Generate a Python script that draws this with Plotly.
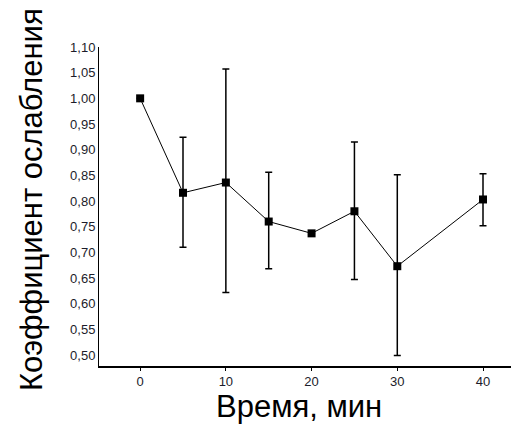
import plotly.graph_objects as go

time_min = [0, 5, 10, 15, 20, 25, 30, 40]
coef = [1.00, 0.816, 0.836, 0.760, 0.737, 0.780, 0.673, 0.803]
err_upper = [None, 0.924, 1.057, 0.856, None, 0.915, 0.851, 0.853]
err_lower = [None, 0.710, 0.622, 0.668, None, 0.647, 0.499, 0.752]
y_ticks = [0.50, 0.55, 0.60, 0.65, 0.70, 0.75, 0.80, 0.85, 0.90, 0.95, 1.00, 1.05, 1.10]
x_ticks = [0, 10, 20, 30, 40]

plus = [(u - c) if u is not None else 0 for u, c in zip(err_upper, coef)]
minus = [(c - l) if l is not None else 0 for l, c in zip(err_lower, coef)]

fig = go.Figure()
fig.add_trace(go.Scatter(
    x=time_min, y=coef, mode="lines+markers",
    line=dict(color="black", width=1),
    marker=dict(symbol="square", size=8, color="black"),
    error_y=dict(type="data", symmetric=False, array=plus, arrayminus=minus,
                 color="black", thickness=1.5, width=3.5),
    showlegend=False,
))

# the page body has an 8px margin, so the figure is offset by 8px
fig.update_layout(
    width=519, height=427,
    margin=dict(l=91, r=8, t=39, b=69, autoexpand=False),
    plot_bgcolor="white", paper_bgcolor="white",
    separators=", ",
    font=dict(family="Liberation Sans, Arial, sans-serif", color="#1c1c2a"),
    xaxis=dict(range=[-4.8, 44.2], tickvals=x_ticks, showgrid=False, zeroline=False,
               showline=True, linecolor="black", linewidth=1.5,
               ticks="outside", ticklen=3, tickcolor="black",
               tickfont=dict(size=13)),
    yaxis=dict(range=[0.4786, 1.10], tickvals=y_ticks, tickformat=".2f",
               showgrid=False, zeroline=False,
               showline=True, linecolor="black", linewidth=1,
               ticks="", tickfont=dict(size=13)),
    annotations=[
        dict(text="Время, мин", xref="paper", yref="paper",
             x=(299 - 99) / 420, y=-(406 - 366) / 319,
             xanchor="center", yanchor="middle", showarrow=False,
             font=dict(size=31, color="black")),
        dict(text="Коэффициент ослабления", xref="paper", yref="paper",
             x=(32 - 99) / 420, y=(366 - 200) / 319, textangle=-90,
             xanchor="center", yanchor="middle", showarrow=False,
             font=dict(size=31, color="black")),
    ],
)

fig.write_html("out.html")
